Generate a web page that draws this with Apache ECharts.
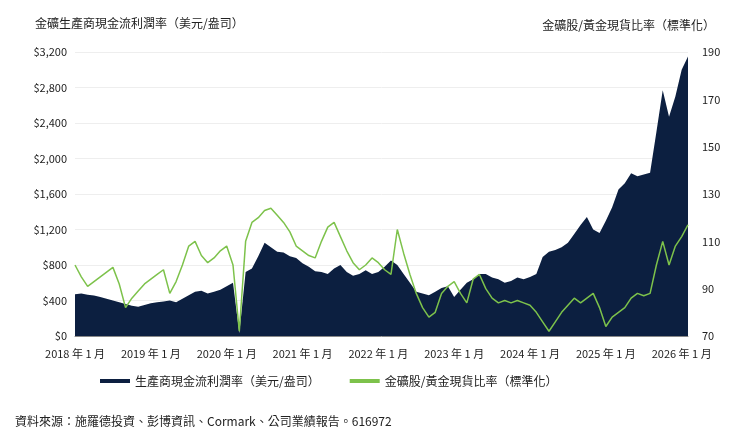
<!DOCTYPE html><html><head><meta charset="utf-8"><script src="https://cdn.jsdelivr.net/npm/echarts@6/dist/echarts.min.js"></script></head><body style="margin:0"><div id="c" style="width:732px;height:439px"></div><script>
const years=[2018,2019,2020,2021,2022,2023,2024,2025,2026];
const margin=[470,480,465,455,440,420,400,380,360,340,330,350,
370,380,390,400,380,420,460,500,510,480,500,520,
560,600,30,720,760,900,1050,1000,950,940,900,880,
820,780,730,720,700,760,800,720,680,700,740,700,
720,780,850,800,700,600,500,480,460,500,540,560,
440,520,600,640,700,700,660,640,600,620,660,640,
665,700,890,950,970,1000,1050,1150,1250,1340,1200,1160,
1300,1450,1650,1720,1835,1800,1820,1840,2300,2770,2470,2700,
3000,3150];
const ratio=[100,95,91,93,95,97,99,92,82,86,89,92,
94,96,98,88,93,100,108,110,104,101,103,106,
108,100,72,110,118,120,123,124,121,118,114,108,
106,104,103,110,116,118,112,106,101,98,100,103,
101,98,96,115,105,96,88,82,78,80,88,91,
93,88,84,94,96,90,86,84,85,84,85,84,
83,80,76,72,76,80,83,86,84,86,88,82,
74,78,80,82,86,88,87,88,100,110,100,108,
112,117];
const months=[];years.forEach(y=>{for(let m=1;m<=12;m++)months.push(y+' 年 '+m+' 月');});
const cats=months.slice(0,margin.length);
const s1='生產商現金流利潤率（美元/盎司）',s2='金礦股/黃金現貨比率（標準化）';
const ch=echarts.init(document.getElementById('c'));
const ff='"Noto Sans CJK TC","Noto Sans",sans-serif';
ch.setOption({textStyle:{fontFamily:ff},
title:[{text:'金礦生產商現金流利潤率（美元/盎司）',left:30,top:12,textStyle:{fontSize:12,fontWeight:'normal',color:'#222'}},
{text:'金礦股/黃金現貨比率（標準化）',right:12,top:14,textStyle:{fontSize:12,fontWeight:'normal',color:'#222'}},
{text:'資料來源：施羅德投資、彭博資訊、Cormark、公司業績報告。616972',left:10,top:410,textStyle:{fontSize:12,fontWeight:'normal',color:'#222'}}],
legend:{top:370,left:95,itemGap:30,textStyle:{fontSize:12,color:'#222'},data:[{name:s1,icon:'rect',itemStyle:{color:'#0c1f40'}},{name:s2,icon:'rect',itemStyle:{color:'#7dc24b'}}],itemWidth:30,itemHeight:4},
grid:{left:75,right:44,top:52,bottom:103},
xAxis:{type:'category',data:cats,boundaryGap:false,axisLine:{lineStyle:{color:'#888'}},axisTick:{show:false},
axisLabel:{interval:11,color:'#222',fontSize:11,margin:12}},
yAxis:[{type:'value',min:0,max:3200,interval:400,axisLabel:{formatter:v=>'$'+v.toLocaleString('en-US'),color:'#222',fontSize:11},splitLine:{lineStyle:{color:'#eee'}}},
{type:'value',min:70,max:190,interval:20,axisLabel:{color:'#222',fontSize:11,margin:14},splitLine:{show:false}}],
series:[{name:s1,type:'line',data:margin,symbol:'none',lineStyle:{width:0},areaStyle:{color:'#0c1f40',opacity:1},itemStyle:{color:'#0c1f40'}},
{name:s2,type:'line',yAxisIndex:1,data:ratio,symbol:'none',lineStyle:{color:'#7dc24b',width:1.5},itemStyle:{color:'#7dc24b'}}]});
</script></body></html>
